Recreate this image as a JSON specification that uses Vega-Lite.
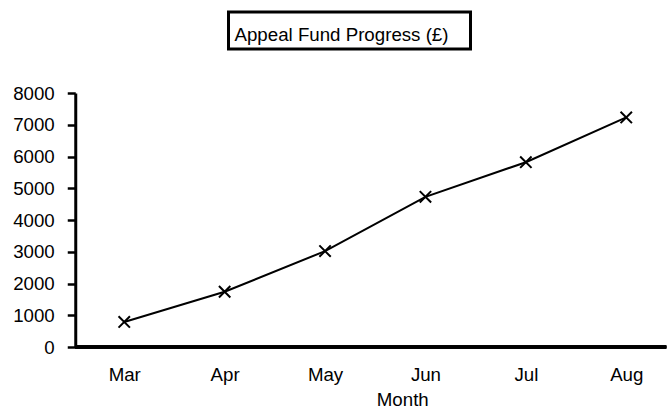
{
  "$schema": "https://vega.github.io/schema/vega-lite/v6.json",
  "background": "white",
  "padding": {"left": 12, "top": 10, "right": 0, "bottom": 0},
  "spacing": 33,
  "center": true,
  "config": {
    "view": {"stroke": null},
    "font": "Liberation Sans",
    "axis": {"labelFont": "Liberation Sans", "titleFont": "Liberation Sans", "labelColor": "black", "titleColor": "black", "grid": false}
  },
  "vconcat": [
    {
      "hconcat": [
        {
          "width": 242,
          "height": 37,
          "view": {"stroke": "black", "strokeWidth": 3},
          "data": {"values": [{"label": "Appeal Fund Progress (£)"}]},
          "mark": {"type": "text", "align": "center", "baseline": "alphabetic", "dx": -8, "dy": 10, "fontSize": 18.7, "color": "black", "font": "Liberation Sans"},
          "encoding": {"text": {"field": "label"}}
        },
        {
          "width": 22,
          "height": 37,
          "data": {"values": []},
          "mark": {"type": "point", "opacity": 0},
          "encoding": {}
        }
      ],
      "spacing": 20
    },
    {
      "width": 591,
      "height": 254,
      "data": {"values": [
        {"month": "Mar", "amount": 790},
        {"month": "Apr", "amount": 1740},
        {"month": "May", "amount": 3020},
        {"month": "Jun", "amount": 4730},
        {"month": "Jul", "amount": 5820},
        {"month": "Aug", "amount": 7230}
      ]},
      "encoding": {
        "x": {"field": "month", "type": "ordinal", "sort": null, "scale": {"type": "point", "range": [49, 551], "padding": 0},
          "axis": {"title": "Month", "labelAngle": 0, "domain": false, "ticks": false, "tickSize": 0, "labelPadding": 18, "labelFontSize": 18.7, "titleFontSize": 18.7, "titleFontWeight": "normal", "titlePadding": 7, "titleX": 327}},
        "y": {"field": "amount", "type": "quantitative", "scale": {"domain": [0, 8000], "nice": false},
          "axis": {"title": null, "values": [0, 1000, 2000, 3000, 4000, 5000, 6000, 7000, 8000], "format": "d", "labelFontSize": 18.7, "domainColor": "black", "domainWidth": 3, "tickColor": "black", "tickWidth": 2.5, "tickSize": 8, "labelPadding": 13}}
      },
      "layer": [
        {"mark": {"type": "rule", "color": "black", "strokeWidth": 3}, "encoding": {"x": null, "y": {"datum": 0}}},
        {"mark": {"type": "line", "color": "black", "strokeWidth": 2}},
        {"mark": {"type": "point", "shape": "M-1,-1L1,1M-1,1L1,-1", "filled": false, "size": 130, "stroke": "black", "strokeWidth": 2, "opacity": 1}}
      ]
    }
  ]
}
